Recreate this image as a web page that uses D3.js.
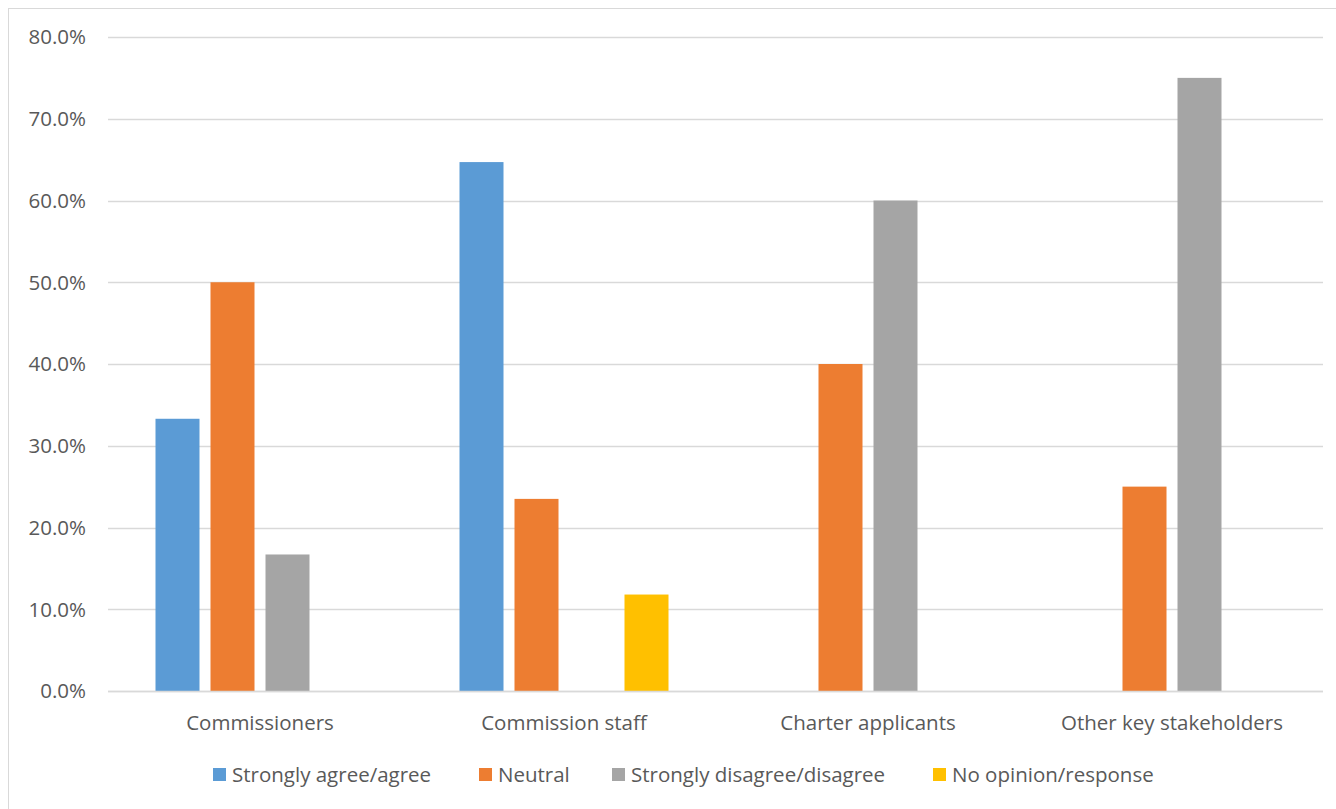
<!DOCTYPE html>
<html><head><meta charset="utf-8">
<script src="https://cdn.jsdelivr.net/npm/d3@7"></script>
<style>body{margin:0;background:#fff;} text{font-family:"Open Sans",sans-serif;fill:#595959;}</style>
</head><body>
<svg id="c" width="1336" height="809"></svg>
<script>
const categories = ["Commissioners","Commission staff","Charter applicants","Other key stakeholders"];
const seriesNames = ["Strongly agree/agree","Neutral","Strongly disagree/disagree","No opinion/response"];
const seriesColors = ["#5b9bd5","#ed7d31","#a5a5a5","#ffc000"];
const agree = [33.3, 64.7, 0, 0];
const neutral = [50.0, 23.5, 40.0, 25.0];
const disagree = [16.7, 0, 60.0, 75.0];
const noOpinion = [0, 11.8, 0, 0];
const yTicks = [0,10,20,30,40,50,60,70,80];

(function(){
const seriesValues = [agree, neutral, disagree, noOpinion];
const svg = d3.select("#c");
svg.append("rect").attr("x",8.5).attr("y",8.5).attr("width",1340).attr("height",820)
  .attr("fill","#fff").attr("stroke","#d9d9d9");

const pL=108, pR=1323, pT=37, pB=691;
const x = d3.scaleBand().domain(categories).range([pL,1324]);
const y = d3.scaleLinear().domain([0,80]).range([pB,pT]);
const inner = d3.scaleBand().domain(d3.range(4)).range([0,209]).paddingInner(0.2);

svg.append("g").selectAll("line").data(yTicks).join("line")
  .attr("x1",pL).attr("x2",pR).attr("y1",d=>Math.round(y(d))+0.5).attr("y2",d=>Math.round(y(d))+0.5)
  .attr("stroke","#d9d9d9").attr("stroke-width",1.3);

svg.append("g").selectAll("text").data(yTicks).join("text")
  .attr("x",86).attr("y",d=>y(d)).attr("dy","0.36em").attr("text-anchor","end")
  .attr("font-size",20.5).text(d=>d.toFixed(1)+"%");

const data=[];
categories.forEach((c,ci)=>seriesValues.forEach((s,si)=>data.push({c,si,v:s[ci]})));
svg.append("g").selectAll("rect").data(data.filter(d=>d.v>0)).join("rect")
  .attr("x",d=>x(d.c)+x.bandwidth()/2-104.5+inner(d.si))
  .attr("width",inner.bandwidth())
  .attr("y",d=>y(d.v)).attr("height",d=>pB-y(d.v))
  .attr("fill",d=>seriesColors[d.si]);

svg.append("line").attr("x1",pL).attr("x2",pR).attr("y1",pB+0.5).attr("y2",pB+0.5)
  .attr("stroke","#d9d9d9").attr("stroke-width",1.5);

svg.append("g").selectAll("text").data(categories).join("text")
  .attr("x",d=>x(d)+x.bandwidth()/2).attr("y",730).attr("text-anchor","middle")
  .attr("font-size",20.5).text(d=>d);

const legX=[213,479,612,933];
const lg = svg.append("g").selectAll("g").data(seriesNames).join("g")
  .attr("transform",(d,i)=>`translate(${legX[i]},768)`);
lg.append("rect").attr("width",13).attr("height",13).attr("fill",(d,i)=>seriesColors[i]);
lg.append("text").attr("x",19).attr("y",14).attr("font-size",20.5).text(d=>d);
})();
</script>
</body></html>
